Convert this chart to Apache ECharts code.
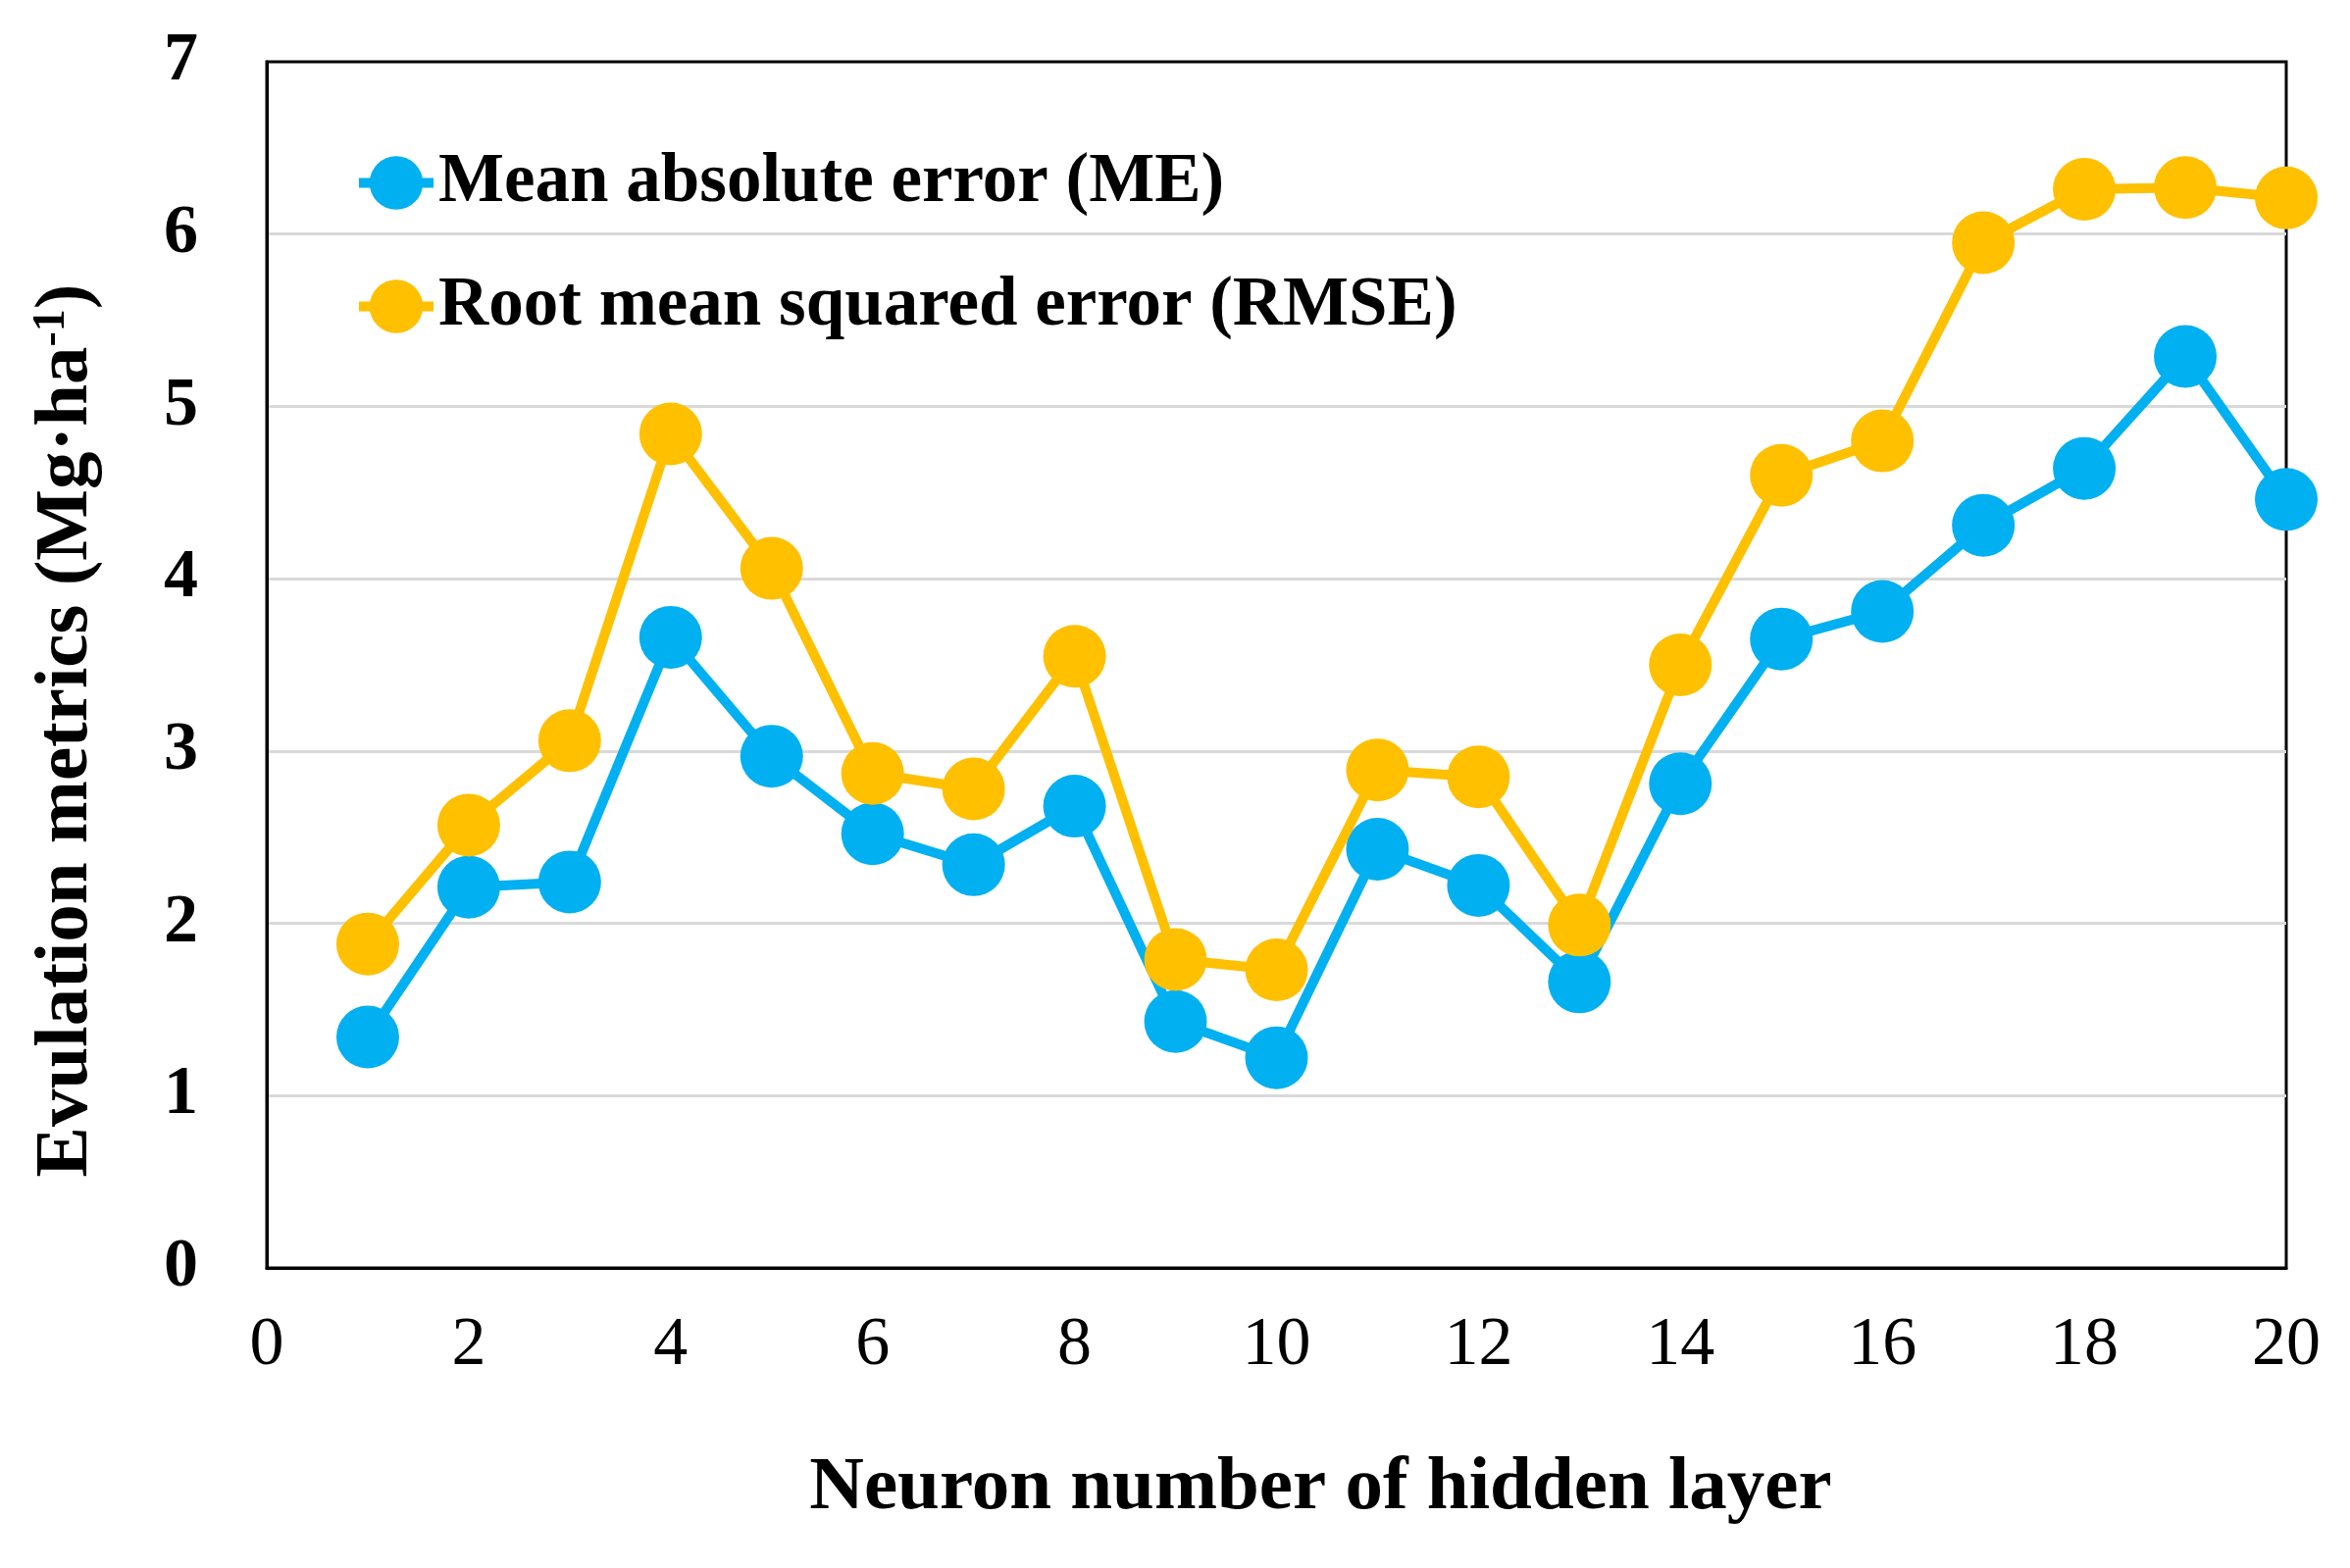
<!DOCTYPE html>
<html>
<head>
<meta charset="utf-8">
<script src="https://cdn.jsdelivr.net/npm/echarts@6/dist/echarts.min.js"></script>
<style>
html,body{margin:0;padding:0;background:#fff;}
#chart{width:2396px;height:1599px;}
</style>
</head>
<body>
<div id="chart"></div>
<script>
const neurons = [1,2,3,4,5,6,7,8,9,10,11,12,13,14,15,16,17,18,19,20];
const meValues = [1.34,2.21,2.24,3.66,2.97,2.52,2.34,2.68,1.43,1.22,2.43,2.22,1.66,2.81,3.65,3.81,4.31,4.64,5.29,4.46];
const rmseValues = [1.88,2.57,3.06,4.84,4.06,2.87,2.78,3.55,1.79,1.73,2.89,2.85,1.99,3.50,4.60,4.80,5.95,6.26,6.27,6.21];
const seriesNames = ['Mean absolute error (ME)', 'Root mean squared error (RMSE)'];
const xTitle = 'Neuron number of hidden layer';
const yTitle = 'Evulation metrics (Mg·ha{sup|-1})';

const FONT = '"Liberation Serif", "Times New Roman", serif';
const chart = echarts.init(document.getElementById('chart'), null, {renderer:'canvas'});
const mk = (vals) => neurons.map((n, i) => [n, vals[i]]);

chart.setOption({
  backgroundColor: '#ffffff',
  animation: false,
  grid: {left: 272, right: 65, top: 63, bottom: 306, show: true, borderColor: '#000', borderWidth: 3, containLabel: false},
  legend: {
    orient: 'vertical', left: 356, top: 146,
    itemWidth: 76, itemHeight: 68, itemGap: 55,
    lineStyle: {width: 10},
    textStyle: {fontFamily: FONT, fontWeight: 'bold', fontSize: 71, color: '#000', lineHeight: 68},
    data: seriesNames
  },
  xAxis: {
    type: 'value', min: 0, max: 20, interval: 2,
    name: xTitle, nameLocation: 'middle', nameGap: 187,
    nameTextStyle: {fontFamily: FONT, fontWeight: 'bold', fontSize: 77, color: '#000', padding: [0,0,0,90]},
    axisLine: {show: true, lineStyle: {color: '#000', width: 3}},
    axisTick: {show: false},
    splitLine: {show: false},
    axisLabel: {fontFamily: FONT, fontSize: 70, color: '#000', margin: 45}
  },
  yAxis: {
    type: 'value', min: 0, max: 7, interval: 1,
    name: yTitle, nameLocation: 'middle', nameGap: 165, nameRotate: 90,
    nameTextStyle: {fontFamily: FONT, fontWeight: 'bold', fontSize: 77, color: '#000', padding: [0,134,0,0],
      rich: {sup: {fontFamily: FONT, fontWeight: 'bold', fontSize: 46, color: '#000', verticalAlign: 'top', padding: [0,0,22,0]}}},
    axisLine: {show: true, lineStyle: {color: '#000', width: 3}},
    axisTick: {show: false},
    splitLine: {show: true, showMinLine: false, showMaxLine: false, lineStyle: {color: '#d9d9d9', width: 3}},
    axisLabel: {fontFamily: FONT, fontWeight: 'bold', fontSize: 70, color: '#000', margin: 70}
  },
  series: [
    {name: seriesNames[0], type: 'line', data: mk(meValues), symbol: 'circle', symbolSize: 64, clip: false,
     itemStyle: {color: '#00B0F0'}, lineStyle: {color: '#00B0F0', width: 10}, z: 2},
    {name: seriesNames[1], type: 'line', data: mk(rmseValues), symbol: 'circle', symbolSize: 64, clip: false,
     itemStyle: {color: '#FFC000'}, lineStyle: {color: '#FFC000', width: 10}, z: 3}
  ]
});
</script>
</body>
</html>
